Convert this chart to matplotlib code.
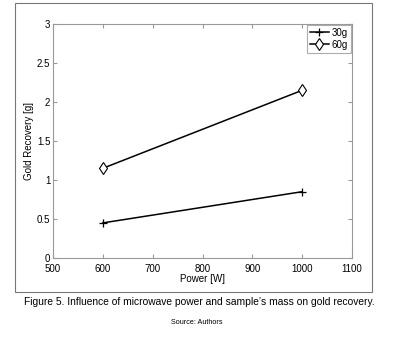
import matplotlib
matplotlib.use("Agg")
import matplotlib.pyplot as plt
from matplotlib.patches import Rectangle

power = [600, 1000]
mass_30g = [0.45, 0.85]
mass_60g = [1.15, 2.15]
series_labels = ["30g", "60g"]
x_ticks = [500, 600, 700, 800, 900, 1000, 1100]
y_ticks = [0, 0.5, 1, 1.5, 2, 2.5, 3]
y_tick_labels = ["0", "0.5", "1", "1.5", "2", "2.5", "3"]

plt.rcParams['font.family'] = ['Liberation Sans', 'DejaVu Sans']

W, H = 400, 341
fig = plt.figure(figsize=(W/100, H/100), dpi=100)

# outer frame
fig.patches.append(Rectangle((15/W, 1-292/H), (372-15)/W, (292-3)/H,
                             transform=fig.transFigure, fill=False,
                             edgecolor='#777777', linewidth=0.8))

ax = fig.add_axes([53/W, 1-258/H, (352-53)/W, (258-24)/H])
ax.plot(power, mass_30g, color='black', marker='+', markersize=6,
        markeredgewidth=0.9, linewidth=1.1, label=series_labels[0])
ax.plot(power, mass_60g, color='black', marker='d', markersize=6,
        markerfacecolor='white', markeredgewidth=0.8,
        linewidth=1.1, label=series_labels[1])
ax.set_xlim(500, 1100)
ax.set_ylim(0, 3)
ax.set_xticks(x_ticks)
ax.set_yticks(y_ticks)
ax.set_yticklabels(y_tick_labels)
ax.tick_params(direction='in', length=3, labelsize=7, colors='#999999',
               labelcolor='black', pad=2, top=True, right=True)
ax.tick_params(axis='x', pad=4.5)
for s in ax.spines.values():
    s.set_color('#999999')
    s.set_linewidth(0.8)
ax.set_xlabel("Power [W]", fontsize=7, labelpad=0)
ax.set_ylabel("Gold Recovery [g]", fontsize=7, labelpad=2)
leg = ax.legend(loc='upper right', fontsize=7, frameon=True, fancybox=False,
                borderaxespad=0.1, handlelength=2.0, borderpad=0.3,
                labelspacing=0.2, handletextpad=0.3)
leg.get_frame().set_edgecolor('#999999')
leg.get_frame().set_linewidth(0.8)

fig.text(199/W, 1-302/H,
         "Figure 5. Influence of microwave power and sample\u2019s mass on gold recovery.",
         ha='center', va='center', fontsize=7.4,
         family=['Liberation Sans Narrow', 'Liberation Sans', 'DejaVu Sans'])
fig.text(197/W, 1-323/H, "Source: Authors", ha='center', va='center',
         fontsize=5.2,
         family=['Liberation Sans Narrow', 'Liberation Sans', 'DejaVu Sans'])

fig.savefig("out.png", dpi=100)
